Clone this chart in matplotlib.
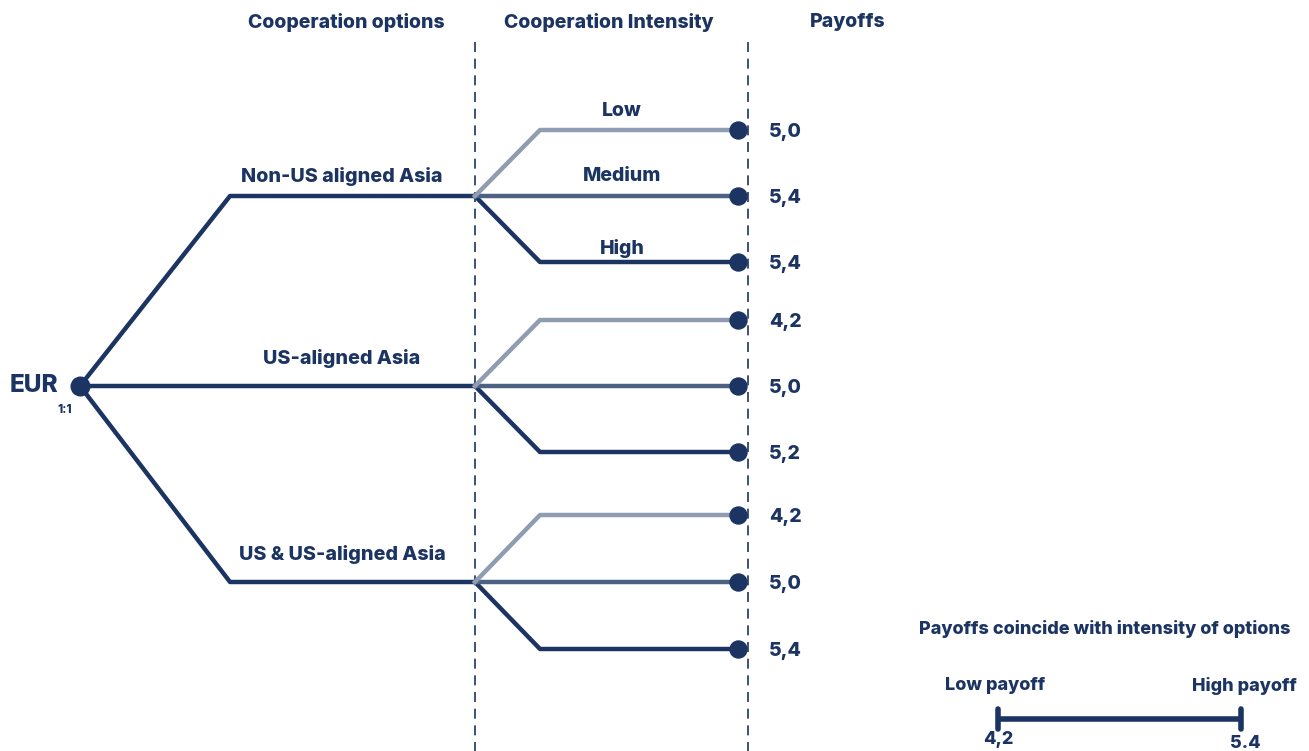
import matplotlib.pyplot as plt

options = ["Non-US aligned Asia", "US-aligned Asia", "US & US-aligned Asia"]
intensities = ["Low", "Medium", "High"]
payoffs = [["5,0", "5,4", "5,4"],
           ["4,2", "5,0", "5,2"],
           ["4,2", "5,0", "5,4"]]
headers = ["Cooperation options", "Cooperation Intensity", "Payoffs"]
legend_ends = ["4,2", "5.4"]

navy = "#1c3461"
mid = "#4d6183"
light = "#8f9cb1"
branch_colors = [light, mid, navy]

plt.rcParams['font.family'] = ['Inter', 'DejaVu Sans']
W = 'heavy'

fig = plt.figure(figsize=(13.09, 7.51), dpi=100)
ax = fig.add_axes([0, 0, 1, 1])
ax.set_xlim(0, 1309)
ax.set_ylim(751, 0)
ax.axis('off')

root = (80, 386)
x_knee1, x_split, x_knee2, x_end = 230, 475, 540, 738
opt_y = [196, 386, 582]
spread = [66, 66, 67]
opt_label_off = [20, 27, 27]
int_label_off = [19, 20, 14]

# dashed column separators
for xv in [x_split, 748]:
    ax.plot([xv, xv], [42, 751], ls=(0, (6, 4)), lw=1.2, color=navy, zorder=1)

# header labels
for txt, xc in zip(headers, [346, 609, 848]):
    ax.text(xc, 22, txt, ha='center', va='center', fontsize=14,
            fontweight=W, color=navy)

for i, (name, yo) in enumerate(zip(options, opt_y)):
    if i == 1:
        ax.plot([root[0], x_split], [root[1], yo], color=navy, lw=3.2,
                solid_capstyle='round', zorder=2)
    else:
        ax.plot([root[0], x_knee1, x_split], [root[1], yo, yo], color=navy, lw=3.2,
                solid_joinstyle='round', zorder=2)
    ax.text(342, yo - opt_label_off[i], name, ha='center', va='center',
            fontsize=14.2, fontweight=W, color=navy)
    for j in range(3):
        yb = yo + (j - 1) * spread[i]
        if j == 1:
            xs, ys = [x_split, x_end], [yo, yb]
        else:
            xs, ys = [x_split, x_knee2, x_end], [yo, yb, yb]
        ax.plot(xs, ys, color=branch_colors[j], lw=3.2, zorder=3 - j * 0.1,
                solid_joinstyle='round')
        ax.scatter([x_end], [yb], s=150, color=navy, zorder=5)
        ax.text(769, yb + 2, payoffs[i][j], ha='left', va='center',
                fontsize=14, fontweight=W, color=navy)
        if i == 0:
            ax.text(622, yb - int_label_off[j], intensities[j], ha='center',
                    va='center', fontsize=14, fontweight=W, color=navy)

# root node
ax.scatter([root[0]], [root[1]], s=180, color=navy, zorder=6)
ax.text(34, 386, "EUR", ha='center', va='center', fontsize=17.5,
        fontweight=W, color=navy)
ax.text(65, 410, "1:1", ha='center', va='center', fontsize=8.5,
        fontweight=W, color=navy)

# legend scale
ax.text(1105, 629, "Payoffs coincide with intensity of options", ha='center',
        va='center', fontsize=13, fontweight=W, color=navy)
ax.text(995, 686, "Low payoff", ha='center', va='center', fontsize=13,
        fontweight=W, color=navy)
ax.text(1244, 686, "High payoff", ha='center', va='center', fontsize=13,
        fontweight=W, color=navy)
ax.plot([998, 1241], [719, 719], color=navy, lw=4, solid_capstyle='butt')
for xv in [998, 1241]:
    ax.plot([xv, xv], [709, 729], color=navy, lw=4, solid_capstyle='round')
ax.text(998, 740, legend_ends[0], ha='center', va='center', fontsize=13,
        fontweight=W, color=navy)
ax.text(1245, 743, legend_ends[1], ha='center', va='center', fontsize=13,
        fontweight=W, color=navy)

fig.savefig("out.png", dpi=100)
